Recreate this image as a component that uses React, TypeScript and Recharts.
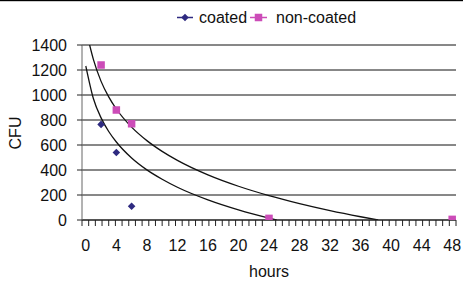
import React from "react";
import { ComposedChart, Scatter, Line, XAxis, YAxis, CartesianGrid } from "recharts";

// measured points
const HOURS = [2, 4, 6, 24, 48];
const COATED = [765, 540, 110, 0, 0];
const NON_COATED = [1240, 880, 770, 13, 5];

// trend curves
const TREND_COATED_HOURS = [0, 1, 2, 3, 4, 6, 8, 10, 12, 16, 20, 24, 25];
const TREND_COATED = [1232, 970, 817, 708, 624, 496, 401, 326, 262, 161, 81, 15, 0];
const TREND_NON_COATED_HOURS = [0.5, 1, 2, 3, 4, 6, 8, 10, 12, 16, 20, 24, 28, 32, 36, 38.3];
const TREND_NON_COATED = [1400, 1283, 1109, 985, 888, 743, 635, 549, 477, 361, 270, 195, 131, 75, 26, 0];

const X_LABELS = [0, 4, 8, 12, 16, 20, 24, 28, 32, 36, 40, 44, 48];
const Y_TICKS = [0, 200, 400, 600, 800, 1000, 1200, 1400];

const SERIES = ["coated", "non-coated"];
const COLORS = ["#2E2A80", "#CC4CB8"];

const FONT = "'Liberation Sans', Arial, Helvetica, sans-serif";

const coatedData = HOURS.map((h, i) => ({ x: h, y: COATED[i] }));
const nonCoatedData = HOURS.map((h, i) => ({ x: h, y: NON_COATED[i] }));
const trendCoated = TREND_COATED_HOURS.map((h, i) => ({ x: h, y: TREND_COATED[i] }));
const trendNonCoated = TREND_NON_COATED_HOURS.map((h, i) => ({ x: h, y: TREND_NON_COATED[i] }));

// small tick marks along the hours axis (Excel minor ticks)
const MINOR_TICKS: number[] = [];
for (let k = 0; k <= 56; k++) {
  const v = Math.round((-0.5 + k * 0.875) * 1000) / 1000;
  if (!X_LABELS.includes(v)) MINOR_TICKS.push(v);
}
const ALL_X_TICKS = [...MINOR_TICKS, ...X_LABELS].sort((a, b) => a - b);

const Diamond = ({ cx, cy, fill }: any) => {
  const r = 3.8;
  return <path d={`M${cx},${cy - r}L${cx + r},${cy}L${cx},${cy + r}L${cx - r},${cy}Z`} fill={fill} />;
};

const Square = ({ cx, cy, fill }: any) => {
  const s = 7.5;
  return <rect x={cx - s / 2} y={cy - s / 2} width={s} height={s} fill={fill} />;
};

const XTick = ({ x, y, payload }: any) => {
  if (X_LABELS.includes(payload.value)) {
    return (
      <text x={x} y={y + 31} textAnchor="middle" fontSize={16} fontFamily={FONT} fill="#111">
        {payload.value}
      </text>
    );
  }
  return <line x1={x} y1={y} x2={x} y2={y + 6} stroke="#222" strokeWidth={1} />;
};

export default function App() {
  return (
    <div style={{ position: "absolute", left: 0, top: 0, width: 463, height: 281, background: "#fff" }}>
      <ComposedChart width={463} height={281} margin={{ top: 45, right: 7, bottom: 0, left: 0 }}>
        <CartesianGrid vertical={false} stroke="#111" strokeWidth={1} />
        <XAxis
          dataKey="x"
          type="number"
          domain={[-0.5, 48.5]}
          ticks={ALL_X_TICKS}
          interval={0}
          tickSize={0}
          tickMargin={0}
          tickLine={false}
          tick={<XTick />}
          height={61}
          axisLine={{ stroke: "#222" }}
          allowDataOverflow
          label={{
            value: "hours",
            content: () => (
              <text x={269} y={277} textAnchor="middle" fontSize={16} fontFamily={FONT} fill="#111">
                hours
              </text>
            ),
          }}
        />
        <YAxis
          dataKey="y"
          type="number"
          domain={[0, 1400]}
          ticks={Y_TICKS}
          interval={0}
          width={82}
          tickSize={5}
          tickMargin={10}
          tickLine={{ stroke: "#222" }}
          axisLine={{ stroke: "#666" }}
          tick={{ fontSize: 16, fontFamily: FONT, fill: "#111" }}
          allowDataOverflow
          label={{
            value: "CFU",
            content: () => (
              <text
                x={15}
                y={133}
                transform="rotate(-90 15 133)"
                textAnchor="middle"
                dominantBaseline="central"
                fontSize={16}
                fontFamily={FONT}
                fill="#111"
              >
                CFU
              </text>
            ),
          }}
        />
        <Line
          data={trendCoated}
          dataKey="y"
          type="monotone"
          stroke="#111"
          strokeWidth={1.3}
          dot={false}
          activeDot={false}
          isAnimationActive={false}
        />
        <Line
          data={trendNonCoated}
          dataKey="y"
          type="monotone"
          stroke="#111"
          strokeWidth={1.3}
          dot={false}
          activeDot={false}
          isAnimationActive={false}
        />
        <Scatter name={SERIES[0]} data={coatedData} fill={COLORS[0]} shape={<Diamond />} isAnimationActive={false} />
        <Scatter name={SERIES[1]} data={nonCoatedData} fill={COLORS[1]} shape={<Square />} isAnimationActive={false} />
      </ComposedChart>

      {/* legend + top border line */}
      <svg
        width={463}
        height={40}
        style={{ position: "absolute", left: 0, top: 0, pointerEvents: "none" }}
      >
        <rect x={0} y={0} width={463} height={1.2} fill="#000" />
        <line x1={177} y1={17.5} x2={193} y2={17.5} stroke={COLORS[0]} strokeWidth={1.5} />
        <Diamond cx={185} cy={17.5} fill={COLORS[0]} />
        <text x={199} y={23.2} fontSize={16} fontFamily={FONT} fill="#111">
          {SERIES[0]}
        </text>
        <line x1={250} y1={17.5} x2={267} y2={17.5} stroke={COLORS[1]} strokeWidth={1.5} />
        <Square cx={258.5} cy={17.5} fill={COLORS[1]} />
        <text x={276} y={23.2} fontSize={16} fontFamily={FONT} fill="#111">
          {SERIES[1]}
        </text>
      </svg>
    </div>
  );
}
